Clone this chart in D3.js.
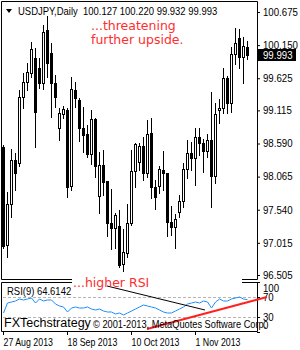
<!DOCTYPE html>
<html>
<head>
<meta charset="utf-8" />
<title>USDJPY Daily</title>
<style>
html, body { margin:0; padding:0; background:#fff; }
svg { display:block; }
</style>
</head>
<body>
<script src="https://d3js.org/d3.v7.min.js"></script>
<script>
// daily bars, 27 Aug 2013 .. 20 Nov 2013
var opens  = [98.53,96.98,97.63,98.33,98.28,99.33,99.57,99.71,99.95,99.79,99.55,100.39,100.03,99.55,98.84,99.06,99.12,97.92,99.44,99.28,
              98.84,98.74,98.42,98.98,97.76,98.25,98.00,97.33,97.25,97.28,96.68,96.85,97.33,98.15,98.30,98.55,98.12,98.76,97.90,97.92,
              98.17,98.12,97.35,97.27,97.50,97.68,98.19,98.44,98.36,98.69,98.60,98.47,98.65,98.07,99.12,99.15,99.63,99.23,100.01,100.26,
              99.96,100.127];
var highs  = [98.57,97.82,98.50,98.44,99.44,99.71,99.87,100.20,100.10,99.95,100.47,100.61,100.18,99.68,99.15,99.18,99.15,99.64,99.57,99.31,
              99.17,98.88,99.12,98.99,98.46,98.49,98.00,97.87,97.49,97.54,97.23,97.63,98.49,98.60,98.60,98.69,98.96,98.99,98.01,98.23,
              98.47,98.12,97.60,97.47,97.77,98.28,98.65,98.61,98.84,98.84,98.66,98.74,99.41,99.23,99.30,99.79,99.66,100.12,100.42,100.41,
              100.28,100.220];
var lows   = [96.93,96.79,97.42,97.85,98.23,99.15,99.44,99.64,98.53,99.47,99.45,99.64,99.01,99.17,98.65,98.99,97.74,97.85,99.17,98.63,
              98.46,98.38,98.27,98.06,97.49,97.77,97.12,96.92,96.93,96.63,96.57,96.79,97.30,97.90,98.17,98.01,98.06,97.73,97.55,97.81,
              97.85,97.12,97.14,96.93,97.42,97.58,98.04,98.17,97.93,98.41,98.14,98.38,97.58,97.96,98.92,99.07,99.07,99.09,99.85,99.79,
              99.55,99.932];
var closes = [96.97,97.63,98.33,98.12,99.33,99.57,99.72,100.09,99.09,99.55,100.36,99.87,99.55,99.33,99.07,99.14,97.90,99.45,99.31,98.84,
              98.72,98.42,98.98,98.23,98.25,97.98,97.33,97.25,97.46,96.66,96.87,97.33,98.15,98.58,98.55,98.12,98.74,97.90,97.74,98.19,
              98.12,97.35,97.27,97.39,97.68,98.19,98.44,98.36,98.69,98.60,98.47,98.65,98.07,99.06,99.15,99.63,99.23,100.01,100.18,99.96,
              100.14,99.993];
var rsi    = [38,58,60,62,66,64,66,68,58,66,62,64,64,56,52,50,40,48,50,48,
              48,50,46,44,46,42,40,40,36,38,34,38,42,46,50,54,52,50,48,44,
              40,38,38,42,46,50,56,58,60,58,62,60,48,60,66,62,62,66,68,70,
              66,64.6142];

var priceTicks = [100.675,100.150,99.625,99.115,98.590,98.065,97.540,97.015,96.505];
var rsiTicks = [100,70,30,0];
var rsiLevels = [70,30];
var dateTicks = [0,16,32,48];
var dateLabels = ["27 Aug 2013","18 Sep 2013","10 Oct 2013","1 Nov 2013"];
// trend lines drawn on the RSI window: [bar index, rsi value]
var redTrend = [[36,6],[66,70]];
var blackTrend = [[26,92],[50.5,44]];

var W = 300, H = 350;
var axisFont = '"Liberation Sans",Arial,sans-serif';
var noteFont = '"DejaVu Sans",sans-serif';

var svg = d3.select('body').append('svg').attr('width', W).attr('height', H);

// squeeze text horizontally (terminal font is narrower than what we have)
function narrow(sel, k){
  sel.each(function(){
    var w = this.getComputedTextLength();
    d3.select(this).attr('textLength', w * k).attr('lengthAdjust', 'spacingAndGlyphs');
  });
}

var x = d3.scaleLinear().domain([0, 61]).range([3, 247]);
var y = d3.scaleLinear().domain([96.505, 100.675]).range([275, 12]);
var yr = d3.scaleLinear().domain([0, 100]).range([332, 282]);

// frames
var frame = svg.append('g').attr('stroke', '#000').attr('fill', 'none');
frame.append('path').attr('d', 'M1.5,1.5H257.5V279.5H1.5Z');
frame.append('path').attr('d', 'M1.5,282.5H257.5V331.5H1.5Z');

// candles
var bars = d3.range(opens.length);
var cg = svg.append('g');
bars.forEach(function(i){
  var px = Math.round(x(i));
  var top = Math.round(y(Math.max(opens[i], closes[i])));
  var bot = Math.round(y(Math.min(opens[i], closes[i])));
  cg.append('line')
    .attr('x1', px + 0.5).attr('x2', px + 0.5)
    .attr('y1', Math.round(y(highs[i]))).attr('y2', Math.round(y(lows[i])) + 1)
    .attr('stroke', '#000');
  cg.append('rect')
    .attr('x', px - 0.5).attr('y', top + 0.5)
    .attr('width', 2).attr('height', Math.max(bot - top, 0))
    .attr('fill', closes[i] >= opens[i] ? '#fff' : '#000')
    .attr('stroke', '#000');
});

// price axis
var yAxis = d3.axisRight(y).tickValues(priceTicks).tickSize(3).tickFormat(d3.format('.3f'));
var ya = svg.append('g').attr('transform', 'translate(257,0)').call(yAxis);
ya.select('.domain').remove();
ya.selectAll('line').attr('stroke', '#000');
ya.selectAll('text').attr('font-family', axisFont).attr('font-size', 10.5).attr('fill', '#000');
narrow(ya.selectAll('text'), 0.92);

// last price box
var last = closes[closes.length - 1];
var ly = Math.round(y(last));
svg.append('rect').attr('x', 258).attr('y', ly - 6).attr('width', 38).attr('height', 12).attr('fill', '#000');
narrow(svg.append('text').attr('x', 263).attr('y', ly + 4).attr('fill', '#fff')
  .attr('font-family', axisFont).attr('font-size', 10.5).text(d3.format('.3f')(last)), 0.92);

// header
svg.append('path').attr('d', 'M6,9H12L9,13Z').attr('fill', '#000');
narrow(svg.append('text').attr('x', 18).attr('y', 15).attr('font-family', axisFont).attr('font-size', 11).attr('fill', '#000')
  .attr('xml:space', 'preserve')
  .text('USDJPY,Daily  ' + [opens, highs, lows, closes].map(function(a){ return d3.format('.3f')(a[a.length - 1]); }).join(' ')), 0.86);

// RSI window
var lg = svg.append('g');
rsiLevels.forEach(function(v){
  lg.append('line').attr('x1', 3).attr('x2', 257).attr('y1', yr(v) + 0.5).attr('y2', yr(v) + 0.5)
    .attr('stroke', '#b4b4b4').attr('stroke-dasharray', '3,2');
});
var line = d3.line().x(function(d, i){ return x(i) + 0.5; }).y(function(d){ return yr(d); });
svg.append('path').datum(rsi).attr('d', line).attr('fill', 'none').attr('stroke', '#1e8fff').attr('stroke-width', 1);

var ra = svg.append('g').attr('transform', 'translate(257,0)')
  .call(d3.axisRight(yr).tickValues(rsiTicks).tickSize(3));
ra.select('.domain').remove();
ra.selectAll('line').attr('stroke', '#000');
ra.selectAll('text').attr('font-family', axisFont).attr('font-size', 10.5).attr('fill', '#000')
  .attr('dy', function(d){ return d == 100 ? '0.95em' : d == 0 ? '-0.35em' : '0.32em'; });
narrow(ra.selectAll('text'), 0.92);

narrow(svg.append('text').attr('x', 7).attr('y', 295).attr('font-family', axisFont).attr('font-size', 11).attr('fill', '#000')
  .text('RSI(9) ' + rsi[rsi.length - 1]), 0.86);

// date axis
var xa = svg.append('g').attr('transform', 'translate(0,331)')
  .call(d3.axisBottom(x).tickValues(dateTicks).tickSize(4).tickFormat(function(d, i){ return dateLabels[i]; }));
xa.select('.domain').remove();
xa.selectAll('line').attr('stroke', '#000');
xa.selectAll('text').attr('text-anchor', 'start').attr('font-family', axisFont).attr('font-size', 11).attr('fill', '#000');
narrow(xa.selectAll('text'), 0.8);

// annotations
svg.append('rect').attr('x', 72).attr('y', 276).attr('width', 170).attr('height', 10).attr('fill', '#fff');
svg.append('line')
  .attr('x1', x(blackTrend[0][0])).attr('y1', yr(blackTrend[0][1]))
  .attr('x2', x(blackTrend[1][0])).attr('y2', yr(blackTrend[1][1]))
  .attr('stroke', '#000');
svg.append('line')
  .attr('x1', x(redTrend[0][0])).attr('y1', yr(redTrend[0][1]))
  .attr('x2', x(redTrend[1][0])).attr('y2', yr(redTrend[1][1]))
  .attr('stroke', '#ff2020').attr('stroke-width', 2);

var red = '#ff2d2d';
svg.append('text').attr('x', 91).attr('y', 30).attr('font-family', noteFont).attr('font-size', 12.5).attr('fill', red).text('...threatening');
svg.append('text').attr('x', 91).attr('y', 44).attr('font-family', noteFont).attr('font-size', 12.5).attr('fill', red).text('further upside.');
svg.append('text').attr('x', 73).attr('y', 286.5).attr('font-family', noteFont).attr('font-size', 12.5).attr('fill', red).text('...higher RSI');

svg.append('text').attr('x', 4).attr('y', 327).attr('font-family', '"Liberation Sans",sans-serif').attr('font-size', 12.5).attr('fill', '#000').text('FXTechstrategy');
narrow(svg.append('text').attr('x', 93).attr('y', 328).attr('font-family', axisFont).attr('font-size', 11).attr('fill', '#000')
  .text('\u00a9 2001-2013, MetaQuotes Software Corp.'), 0.84);
</script>
</body>
</html>
